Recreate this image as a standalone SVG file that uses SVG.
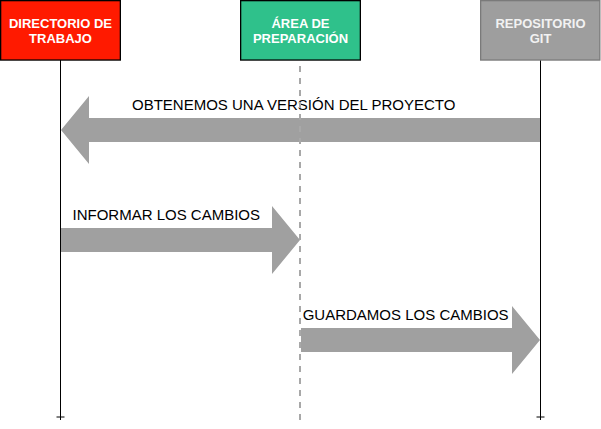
<svg xmlns="http://www.w3.org/2000/svg" width="601" height="429" viewBox="0 0 601 429">
  <style>
    .box { stroke-width: 1.3; }
    .bl { font-family: "Liberation Sans", Arial, sans-serif; font-size: 13px; font-weight: bold; text-anchor: middle; }
    .lbl { font-family: "Liberation Sans", Arial, sans-serif; font-size: 15px; fill: #000000; }
    .arrow { fill: #A0A0A0; stroke: none; }
    .life { stroke: #000000; stroke-width: 1; fill: none; }
    .dash { stroke: #A8A8A8; stroke-width: 2; stroke-dasharray: 6 6; fill: none; }
  </style>
  <rect x="0" y="0" width="601" height="429" fill="#FFFFFF"/>

  <g id="connectors">
    <g id="msg-obtenemos">
      <polygon class="arrow" points="540,118 89,118 89,96 61,130 89,164 89,142 540,142"/>
      <rect x="130" y="96" width="329" height="18" fill="#FFFFFF"/>
      <text class="lbl" x="132" y="110">OBTENEMOS UNA VERSIÓN DEL PROYECTO</text>
    </g>
    <g id="msg-informar">
      <polygon class="arrow" points="61,228 272,228 272,206 300,240 272,274 272,252 61,252"/>
      <rect x="71" y="206" width="191" height="18" fill="#FFFFFF"/>
      <text class="lbl" x="72.5" y="220">INFORMAR LOS CAMBIOS</text>
    </g>
    <g id="msg-guardamos">
      <polygon class="arrow" points="301,328 512,328 512,306 540,340 512,374 512,352 301,352"/>
      <rect x="301.5" y="306" width="209" height="18" fill="#FFFFFF"/>
      <text class="lbl" x="302.7" y="320">GUARDAMOS LOS CAMBIOS</text>
    </g>
  </g>

  <g id="lifelines">
    <path class="life" d="M60.5,60 V420 M56.5,417 H64.5"/>
    <path class="dash" d="M300,66 V420"/>
    <path class="life" d="M540.5,60 V420 M536.5,417 H544.5"/>
  </g>

  <g id="node-directorio">
    <rect class="box" x="0.65" y="0.65" width="119.7" height="59.4" fill="#FF1A00" stroke="#000000"/>
    <text class="bl" fill="#FFFFFF" x="60.5" y="27.5">DIRECTORIO DE</text>
    <text class="bl" fill="#FFFFFF" x="60.5" y="43">TRABAJO</text>
  </g>
  <g id="node-area">
    <rect class="box" x="240.65" y="0.65" width="119.7" height="59.4" fill="#2FC18B" stroke="#000000"/>
    <text class="bl" fill="#FFFFFF" x="300.5" y="27.5">ÁREA DE</text>
    <text class="bl" fill="#FFFFFF" x="300.5" y="43">PREPARACIÓN</text>
  </g>
  <g id="node-repositorio">
    <rect class="box" x="480.65" y="0.65" width="119.2" height="59.4" fill="#9E9E9E" stroke="#7A7A7A"/>
    <text class="bl" fill="#F2F2F2" x="540.5" y="27.5">REPOSITORIO</text>
    <text class="bl" fill="#F2F2F2" x="540.5" y="43">GIT</text>
  </g>
</svg>
